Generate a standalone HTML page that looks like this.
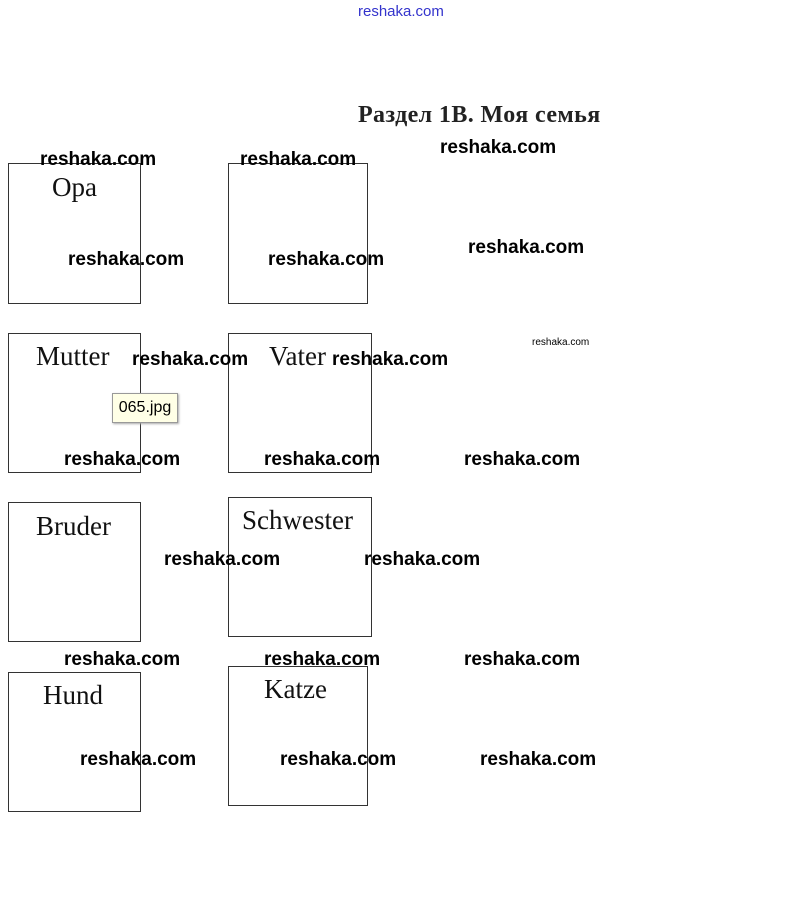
<!DOCTYPE html>
<html><head><meta charset="utf-8"><style>
body{margin:0;width:812px;height:918px;background:#fff;position:relative;overflow:hidden}
.b{position:absolute;border:1px solid #333;box-sizing:border-box}
.l{position:absolute;font-family:"Liberation Serif",serif;font-size:27px;color:#111;line-height:1}
.w{position:absolute;font-family:"Liberation Sans",sans-serif;font-weight:bold;font-size:19px;color:#000;line-height:1;white-space:nowrap}
</style></head><body>
<div style="position:absolute;left:358px;top:3px;font-family:'Liberation Sans',sans-serif;font-size:15px;color:#3333cc">reshaka.com</div>
<div style="position:absolute;left:358px;top:102px;font-family:'Liberation Serif',serif;font-size:24px;font-weight:bold;color:#222;letter-spacing:0.4px">Раздел 1В. Моя семья</div>
<div class="b" style="left:8px;top:163px;width:133px;height:141px"></div>
<div class="b" style="left:228px;top:163px;width:140px;height:141px"></div>
<div class="b" style="left:8px;top:333px;width:133px;height:140px"></div>
<div class="b" style="left:228px;top:333px;width:144px;height:140px"></div>
<div class="b" style="left:8px;top:502px;width:133px;height:140px"></div>
<div class="b" style="left:228px;top:497px;width:144px;height:140px"></div>
<div class="b" style="left:8px;top:672px;width:133px;height:140px"></div>
<div class="b" style="left:228px;top:666px;width:140px;height:140px"></div>
<div class="l" style="left:52px;top:174px">Opa</div>
<div class="l" style="left:36px;top:343px">Mutter</div>
<div class="l" style="left:269px;top:343px">Vater</div>
<div class="l" style="left:36px;top:513px">Bruder</div>
<div class="l" style="left:242px;top:507px">Schwester</div>
<div class="l" style="left:43px;top:682px">Hund</div>
<div class="l" style="left:264px;top:676px">Katze</div>
<div style="position:absolute;left:112px;top:393px;width:64px;height:28px;background:#ffffe6;border:1px solid #999;box-shadow:1px 1px 2px #aaa;font-family:'Liberation Sans',sans-serif;font-size:16px;line-height:28px;text-align:center">065.jpg</div>
<div class="w" style="left:40px;top:150px">reshaka.com</div>
<div class="w" style="left:240px;top:150px">reshaka.com</div>
<div class="w" style="left:440px;top:138px">reshaka.com</div>
<div class="w" style="left:68px;top:250px">reshaka.com</div>
<div class="w" style="left:268px;top:250px">reshaka.com</div>
<div class="w" style="left:468px;top:238px">reshaka.com</div>
<div class="w" style="left:132px;top:350px">reshaka.com</div>
<div class="w" style="left:332px;top:350px">reshaka.com</div>
<div class="w" style="left:532px;top:338px;font-size:10px;font-weight:normal">reshaka.com</div>
<div class="w" style="left:64px;top:450px">reshaka.com</div>
<div class="w" style="left:264px;top:450px">reshaka.com</div>
<div class="w" style="left:464px;top:450px">reshaka.com</div>
<div class="w" style="left:164px;top:550px">reshaka.com</div>
<div class="w" style="left:364px;top:550px">reshaka.com</div>
<div class="w" style="left:64px;top:650px">reshaka.com</div>
<div class="w" style="left:264px;top:650px">reshaka.com</div>
<div class="w" style="left:464px;top:650px">reshaka.com</div>
<div class="w" style="left:80px;top:750px">reshaka.com</div>
<div class="w" style="left:280px;top:750px">reshaka.com</div>
<div class="w" style="left:480px;top:750px">reshaka.com</div>
</body></html>
